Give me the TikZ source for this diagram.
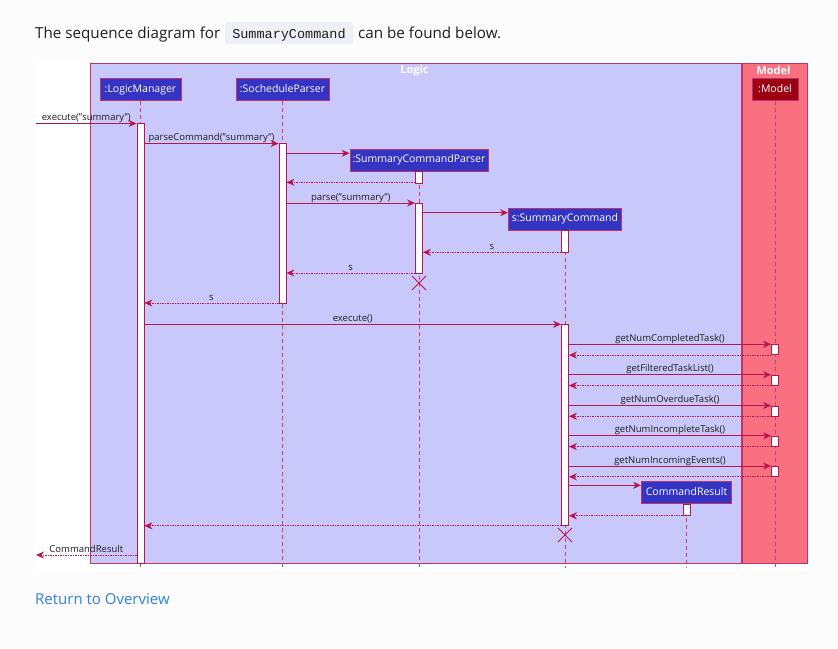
\documentclass[tikz,border=0pt]{standalone}
\usepackage{fontspec}
\setmainfont{Open Sans}
\newfontfamily\monof{Liberation Mono}
\usetikzlibrary{arrows.meta}
\definecolor{pagebg}{HTML}{FCFCFC}
\definecolor{logicbg}{HTML}{C8C8FA}
\definecolor{modelbg}{HTML}{F97181}
\definecolor{logicc}{HTML}{3333C4}
\definecolor{modelc}{HTML}{9D0012}
\definecolor{crim}{HTML}{B8154C}
\definecolor{frameb}{HTML}{C0336A}
\definecolor{lifec}{HTML}{CC3D74}
\definecolor{txt}{HTML}{1E1E1E}
\definecolor{codebg}{HTML}{EFEFF8}
\definecolor{linkc}{HTML}{2F80E3}
\tikzset{
  part/.style={draw=frameb, line width=0.8pt, fill=logicc, text=white,
    font=\fontsize{10.5}{12}\selectfont, inner sep=0pt, minimum height=22pt,
    text height=7.8pt, text depth=2.4pt},
  actbar/.style={draw=crim, fill=white, line width=0.8pt, minimum width=7pt,
    inner sep=0pt, anchor=north},
  msg/.style={draw=crim, line width=0.8pt,
    -{Stealth[length=8pt,width=7pt,inset=2.5pt]}},
  ret/.style={msg, dash pattern=on 1.5pt off 1pt},
  life/.style={draw=lifec, line width=0.9pt, dash pattern=on 4pt off 3pt},
  lbl/.style={font=\fontsize{9.5}{11}\selectfont, text=txt, inner sep=0.6pt,
    text depth=2pt, anchor=south},
  xmark/.style={draw=crim, line width=1pt},
  ftitle/.style={font=\bfseries\fontsize{11}{13}\selectfont, text=white, inner sep=0pt}
}
\begin{document}
\begin{tikzpicture}[x=1pt,y=-1pt]
\useasboundingbox (0,0) rectangle (838,648);
\fill[pagebg] (0,0) rectangle (838,648);
\fill[white] (36,60) rectangle (808,571);

% heading
\node[anchor=base west, inner sep=0pt, text=txt, font=\fontsize{15.2}{18}\selectfont] (h1) at (35,38.5) {The sequence diagram for};
\node[fill=codebg, rounded corners=3pt, minimum width=128pt, minimum height=22pt, inner sep=0pt] (hcode) at (289,33) {};
\node[anchor=base, inner sep=0pt, text=txt, font=\monof\fontsize{13.5}{16}\selectfont] (hcodet) at (289,38.5) {SummaryCommand};
\node[anchor=base west, inner sep=0pt, text=txt, font=\fontsize{15.2}{18}\selectfont] (h2) at (358,38.5) {can be found below.};

% frames
\draw[fill=logicbg, draw=frameb, line width=1pt] (90,63) rectangle (741,563);
\draw[fill=modelbg, draw=frameb, line width=1pt] (742,63) rectangle (807,563);
\node[ftitle] (tlogic) at (414.5,70.5) {Logic};
\node[ftitle] (tmodel) at (773.5,70.5) {Model};

% participants
\node[part, minimum width=81pt] (lm) at (140.5,89.5) {:LogicManager};
\node[part, minimum width=93pt] (sp) at (282.5,89.5) {:SocheduleParser};
\node[part, minimum width=138pt] (scp) at (419,160) {:SummaryCommandParser};
\node[part, minimum width=113pt] (sc) at (565,219) {s:SummaryCommand};
\node[part, minimum width=90pt] (cr) at (686.5,492.3) {CommandResult};
\node[part, minimum width=46pt, fill=modelc] (mo) at (775,89.5) {:Model};

% lifelines
\foreach \p in {lm,sp,scp,sc,cr,mo}
  \draw[life] (\p.south) -- (\p.south |- 0,568);

% activation bars
\node[actbar, minimum height=440pt] (lmb) at (140.5,123) {};
\node[actbar, minimum height=160pt] (spb) at (282.5,143) {};
\node[actbar, minimum height=12pt] (scpb1) at (419,171) {};
\node[actbar, minimum height=70pt] (scpb2) at (419,203) {};
\node[actbar, minimum height=22pt] (scb1) at (565,230) {};
\node[actbar, minimum height=201pt] (scb2) at (565,324) {};
\node[actbar, minimum height=10pt] (mb1) at (775,344.3) {};
\node[actbar, minimum height=10pt] (mb2) at (775,374.7) {};
\node[actbar, minimum height=10pt] (mb3) at (775,405.5) {};
\node[actbar, minimum height=10pt] (mb4) at (775,435.8) {};
\node[actbar, minimum height=10pt] (mb5) at (775,466) {};
\node[actbar, minimum height=11.5pt] (crb) at (686.5,503.5) {};

% external ends
\coordinate (ext1) at (36,123.5);
\coordinate (ext2) at (36,555);

% messages
\draw[msg] (ext1) -- node[lbl] (l1) {execute("summary")} (lmb.west |- ext1);
\draw[msg] (lmb.east |- 0,143.5) -- node[lbl] (l2) {parseCommand("summary")} (spb.west |- 0,143.5);
\draw[msg] (spb.east |- 0,153.3) -- (scp.west |- 0,153.3);
\draw[ret] (scpb1.west |- 0,182.3) -- (spb.east |- 0,182.3);
\draw[msg] (spb.east |- 0,203) -- node[lbl] (l3) {parse("summary")} (scpb2.west |- 0,203);
\draw[msg] (scpb2.east |- 0,212.7) -- (sc.west |- 0,212.7);
\draw[ret] (scb1.west |- 0,252.3) -- node[lbl] (l4) {s} (scpb2.east |- 0,252.3);
\draw[ret] (scpb2.west |- 0,273) -- node[lbl] (l5) {s} (spb.east |- 0,273);
\draw[ret] (spb.west |- 0,303) -- node[lbl] (l6) {s} (lmb.east |- 0,303);
\draw[msg] (lmb.east |- 0,324.3) -- node[lbl] (l7) {execute()} (scb2.west |- 0,324.3);

\draw[msg] (scb2.east |- mb1.north) -- node[lbl] (l8) {getNumCompletedTask()} (mb1.north west);
\draw[ret] (mb1.south west) -- (scb2.east |- mb1.south);
\draw[msg] (scb2.east |- mb2.north) -- node[lbl] (l9) {getFilteredTaskList()} (mb2.north west);
\draw[ret] (mb2.south west) -- (scb2.east |- mb2.south);
\draw[msg] (scb2.east |- mb3.north) -- node[lbl] (l10) {getNumOverdueTask()} (mb3.north west);
\draw[ret] (mb3.south west) -- (scb2.east |- mb3.south);
\draw[msg] (scb2.east |- mb4.north) -- node[lbl] (l11) {getNumIncompleteTask()} (mb4.north west);
\draw[ret] (mb4.south west) -- (scb2.east |- mb4.south);
\draw[msg] (scb2.east |- mb5.north) -- node[lbl] (l12) {getNumIncomingEvents()} (mb5.north west);
\draw[ret] (mb5.south west) -- (scb2.east |- mb5.south);

\draw[msg] (scb2.east |- 0,485.3) -- (cr.west |- 0,485.3);
\draw[ret] (crb.south west) -- (scb2.east |- crb.south);
\draw[ret] (scb2.south west) -- (lmb.east |- scb2.south);
\draw[ret] (lmb.west |- ext2) -- node[lbl] (l13) {CommandResult} (ext2);

% destroy marks
\draw[xmark] (412,276) -- (426,290) (412,290) -- (426,276);
\draw[xmark] (558,528) -- (572,542) (558,542) -- (572,528);

% link
\node[anchor=base west, inner sep=0pt, text=linkc, font=\fontsize{15}{18}\selectfont] (link) at (35,604) {Return to Overview};
\end{tikzpicture}
\end{document}
